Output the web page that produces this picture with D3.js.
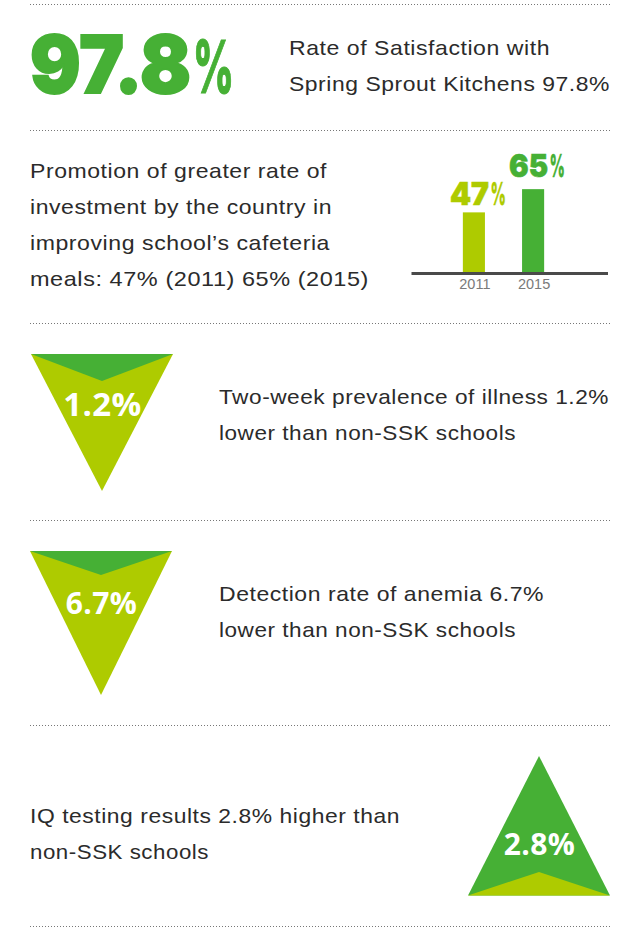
<!DOCTYPE html>
<html><head><meta charset="utf-8">
<script src="https://d3js.org/d3.v7.min.js"></script>
<style>html,body{margin:0;padding:0;background:#fff}svg{display:block}</style>
</head><body><svg id="c" width="640" height="939"></svg>
<script>
const barYears = ["2011","2015"];
const barValues = [47,65];
const barLabels = ["47","65"];
const headline = "97.8";
const headlineText = ["Rate of Satisfaction with","Spring Sprout Kitchens 97.8%"];
const promoText = ["Promotion of greater rate of","investment by the country in","improving school\u2019s cafeteria","meals: 47% (2011) 65% (2015)"];
const illnessText = ["Two-week prevalence of illness 1.2%","lower than non-SSK schools"];
const anemiaText = ["Detection rate of anemia 6.7%","lower than non-SSK schools"];
const iqText = ["IQ testing results 2.8% higher than","non-SSK schools"];

const GREEN="#46b035", LIME="#aecb00", INK="#2b2b2b";
const BODY="'Liberation Sans',Arial,sans-serif";
const HEAVY="'Inter',sans-serif";
const svg=d3.select("#c");

[4,130,323,520,725,926].forEach(y=>svg.append("line").attr("x1",30).attr("x2",611).attr("y1",y+.5).attr("y2",y+.5)
  .attr("stroke","#777").attr("stroke-dasharray","1 2"));

function para(lines,x,y,widths){
  lines.forEach((l,i)=>svg.append("text").attr("x",x).attr("y",y+i*36)
    .attr("font-family",BODY).attr("font-size",21).attr("letter-spacing",.5).attr("fill",INK)
    .attr("textLength",widths[i]).attr("lengthAdjust","spacingAndGlyphs").text(l));
}
para(headlineText,289,54.5,[261,321]);
para(promoText,30,178,[297,302,300,339]);
para(illnessText,219,404,[390,297]);
para(anemiaText,219,601,[325,297]);
para(iqText,30,823,[370,179]);

// heavy text squeezed to a target width by a horizontal scale
function fit(txt,px,base,size,weight,col,stroke,width){
  const t=svg.append("text").attr("font-family",HEAVY).attr("font-weight",weight)
    .attr("font-size",size).attr("fill",col).attr("stroke",col).attr("stroke-width",stroke).text(txt);
  const k=width/t.node().getComputedTextLength();
  t.attr("transform",`translate(${px},${base}) scale(${k},1)`);
}
fit(headline,30,93,80,900,GREEN,2,161);
fit("%",193,93,73,800,GREEN,1.2,41);

// bars
const x=d3.scaleBand().domain(barYears).range([444.5,562.5]).paddingInner(0.627).paddingOuter(0.31);
const y=d3.scaleLinear().domain([0,100]).range([273,144]);
const barCols=[LIME,GREEN], labelBase=[205,177];
barYears.forEach((yr,i)=>{
  svg.append("rect").attr("x",x(yr)).attr("width",x.bandwidth()).attr("y",y(barValues[i])).attr("height",y(0)-y(barValues[i])).attr("fill",barCols[i]);
  const lx=x(yr)+x.bandwidth()/2-24;
  fit(barLabels[i],lx,labelBase[i],32,900,barCols[i],.6,39);
  fit("%",lx+40.5,labelBase[i],32,800,barCols[i],.4,15.5);
});
const ax=svg.append("g").attr("transform","translate(1,273)").call(d3.axisBottom(x).tickSize(0).tickPadding(6));
ax.select(".domain").remove();
ax.selectAll("text").attr("font-family",BODY).attr("font-size",14.5).attr("fill","#7a7a7a");
svg.append("line").attr("x1",411.5).attr("x2",608).attr("y1",273.5).attr("y2",273.5).attr("stroke","#4a4a4a").attr("stroke-width",3);

// triangles
function tri(xl,xr,base,tip,notch,main,acc,label,ty,fs){
  const cx=(xl+xr)/2, ln=d3.line();
  svg.append("path").attr("d",ln([[xl,base],[xr,base],[cx,tip]])+"Z").attr("fill",main);
  svg.append("path").attr("d",ln([[xl,base],[xr,base],[cx,notch]])+"Z").attr("fill",acc);
  svg.append("text").attr("x",cx+.5).attr("y",ty).attr("text-anchor","middle").attr("font-family","'Open Sans',sans-serif").attr("font-weight",700).attr("font-size",fs).attr("letter-spacing",.4).attr("fill","#fff").text(label);
}
tri(31,173,354,491,381,LIME,GREEN,"1.2%",416,33);
tri(30,172,551,695,575,LIME,GREEN,"6.7%",614,30);
tri(468,610,895.5,756,872,GREEN,LIME,"2.8%",855,30);
</script></body></html>
